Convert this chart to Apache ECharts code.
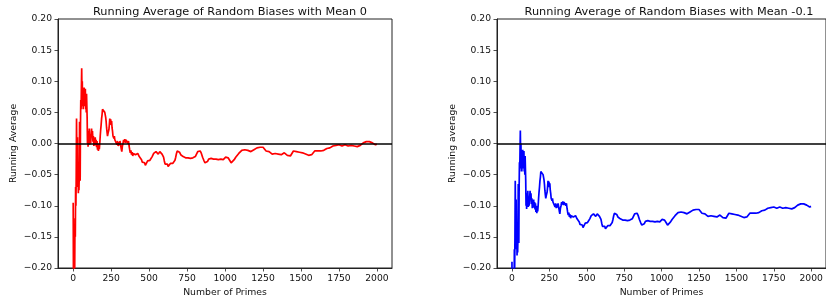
<!DOCTYPE html>
<html>
<head>
<meta charset="utf-8">
<script src="https://cdn.jsdelivr.net/npm/echarts@6.0.0/dist/echarts.min.js"></script>
<style>
html,body{margin:0;padding:0;background:#fff;}
#chart{width:826px;height:303px;}
</style>
</head>
<body>
<div id="chart"></div>
<script>
// Number of primes (x positions of the sampled readings)
const primes = [
  0,2,4,6,8,10,12,14,16,18,20,22,24,26,28,30,32,34,36,38,40,42,44,46,48,50,52,54,56,58,60,62,64,66,68,70,72,74,76,78,80,82,84,86,88,90,92,94,96,98,100,
  103,106,109,112,115,118,121,124,127,130,133,136,139,142,145,148,151,154,157,160,163,166,169,172,175,178,181,184,187,190,193,196,199,202,205,208,211,214,217,220,223,226,229,232,235,238,241,244,247,250,253,256,259,262,265,268,271,274,277,280,
  284,288,292,296,300,304,308,312,316,320,324,328,332,336,340,344,348,352,356,360,364,368,372,376,380,384,388,392,396,400,
  405,410,415,420,425,430,435,440,445,450,455,460,465,470,475,480,485,490,495,500,505,510,515,520,525,530,535,540,545,550,555,560,565,570,575,580,585,590,595,600,605,610,615,620,625,630,635,640,645,650,655,660,665,670,675,680,685,690,695,700,
  708,716,724,732,740,748,756,764,772,780,788,796,804,812,820,828,836,844,852,860,868,876,884,892,900,908,916,924,932,940,948,956,964,972,980,988,996,1004,1012,1020,
  1030,1040,1050,1060,1070,1080,1090,1100,1110,1120,1130,1140,1150,1160,1170,1180,1190,1200,1210,1220,1230,1240,1250,1260,1270,1280,1290,1300,1310,1320,1330,1340,1350,1360,1370,1380,1390,1400,1410,1420,1430,1440,1450,1460,1470,1480,1490,1500,
  1510,1520,1530,1540,1550,1560,1570,1580,1590,1600,1610,1620,1630,1640,1650,1660,1670,1680,1690,1700,1710,1720,1730,1740,1750,1760,1770,1780,1790,1800,1810,1820,1830,1840,1850,1860,1870,1880,1890,1900,1910,1920,1930,1940,1950,1960,1970,1980,1990,1999
];

// Running average, biases with mean 0
const avgMean0 = [
  -0.095,-0.24,-0.21,-0.26,-0.17,-0.2,-0.12,-0.15,-0.07,-0.1,-0.05,0.04,-0.02,-0.07,0.01,-0.06,-0.03,-0.08,-0.04,-0.075,-0.05,0.035,-0.005,-0.06,0.03,0.07,0.055,0.09,0.121,0.08,0.1,0.06,0.085,0.055,0.08,0.065,0.09,0.06,0.08,0.07,0.088,0.055,0.075,0.05,0.08,0.06,0.04,0.0,0.02,-0.005,0.019,
  0.008,0.024,-0.002,0.015,0.0,0.012,0.024,0.01,0.02,0.003,0.012,-0.004,0.008,0.0,0.01,-0.003,0.006,-0.006,0.004,-0.01,0.0,-0.012,-0.004,-0.009,0.0,0.012,0.022,0.03,0.04,0.046,0.055,0.052,0.058,0.054,0.057,0.05,0.052,0.042,0.035,0.025,0.018,0.012,0.016,0.014,0.022,0.03,0.04,0.033,0.039,0.03,0.036,0.025,0.02,0.012,0.015,0.008,0.012,0.006,0.009,0.003,
  0.006,-0.002,0.004,-0.004,0.002,-0.003,0.004,-0.002,-0.008,-0.013,-0.004,0.0,0.006,0.002,0.007,0.001,0.006,0.003,0.006,0.0,0.004,-0.004,-0.01,-0.015,-0.011,-0.018,-0.014,-0.02,-0.016,-0.019,
  -0.014,-0.018,-0.015,-0.02,-0.016,-0.019,-0.021,-0.018,-0.022,-0.026,-0.03,-0.028,-0.033,-0.031,-0.035,-0.032,-0.034,-0.028,-0.03,-0.025,-0.027,-0.024,-0.025,-0.021,-0.018,-0.016,-0.014,-0.016,-0.013,-0.015,-0.014,-0.017,-0.015,-0.013,-0.016,-0.014,-0.017,-0.016,-0.022,-0.028,-0.033,-0.031,-0.035,-0.033,-0.037,-0.034,-0.036,-0.032,-0.034,-0.031,-0.032,-0.029,-0.03,-0.027,-0.022,-0.016,-0.012,-0.01,-0.011,-0.014,
  -0.018,-0.016,-0.021,-0.019,-0.023,-0.025,-0.023,-0.026,-0.024,-0.026,-0.023,-0.025,-0.021,-0.018,-0.013,-0.01,-0.012,-0.016,-0.022,-0.027,-0.031,-0.028,-0.029,-0.025,-0.027,-0.024,-0.027,-0.025,-0.028,-0.025,-0.027,-0.026,-0.028,-0.025,-0.024,-0.026,-0.023,-0.022,-0.02,-0.023,
  -0.027,-0.031,-0.029,-0.026,-0.022,-0.019,-0.016,-0.013,-0.011,-0.012,-0.01,-0.012,-0.011,-0.014,-0.013,-0.012,-0.01,-0.009,-0.007,-0.006,-0.006,-0.007,-0.006,-0.009,-0.012,-0.014,-0.013,-0.015,-0.017,-0.018,-0.016,-0.015,-0.017,-0.02,-0.018,-0.016,-0.015,-0.017,-0.019,-0.021,-0.02,-0.016,-0.012,-0.011,-0.013,-0.014,-0.014,-0.016,
  -0.015,-0.016,-0.017,-0.018,-0.019,-0.02,-0.018,-0.015,-0.012,-0.011,-0.012,-0.011,-0.012,-0.01,-0.011,-0.009,-0.008,-0.006,-0.007,-0.005,-0.004,-0.005,-0.003,-0.003,-0.002,-0.003,-0.004,-0.003,-0.002,-0.003,-0.004,-0.004,-0.003,-0.005,-0.004,-0.006,-0.005,-0.004,-0.003,-0.001,0.001,0.003,0.003,0.002,0.003,0.002,0.001,-0.001,-0.002,-0.001
];

// Running average, biases with mean -0.1
const avgMeanNeg01 = [
  -0.19,-0.34,-0.31,-0.36,-0.27,-0.3,-0.22,-0.25,-0.17,-0.2,-0.15,-0.06,-0.12,-0.17,-0.09,-0.16,-0.13,-0.18,-0.14,-0.175,-0.15,-0.065,-0.105,-0.16,-0.07,-0.03,-0.045,-0.01,0.021,-0.02,0.0,-0.04,-0.015,-0.045,-0.02,-0.035,-0.01,-0.04,-0.02,-0.03,-0.012,-0.045,-0.025,-0.05,-0.02,-0.04,-0.06,-0.1,-0.08,-0.105,-0.081,
  -0.092,-0.076,-0.102,-0.085,-0.1,-0.088,-0.076,-0.09,-0.08,-0.097,-0.088,-0.104,-0.092,-0.1,-0.09,-0.103,-0.094,-0.106,-0.096,-0.11,-0.1,-0.112,-0.104,-0.109,-0.1,-0.088,-0.078,-0.07,-0.06,-0.054,-0.045,-0.048,-0.042,-0.046,-0.043,-0.05,-0.048,-0.058,-0.065,-0.075,-0.082,-0.088,-0.084,-0.086,-0.078,-0.07,-0.06,-0.067,-0.061,-0.07,-0.064,-0.075,-0.08,-0.088,-0.085,-0.092,-0.088,-0.094,-0.091,-0.097,
  -0.094,-0.102,-0.096,-0.104,-0.098,-0.103,-0.096,-0.102,-0.108,-0.113,-0.104,-0.1,-0.094,-0.098,-0.093,-0.099,-0.094,-0.097,-0.094,-0.1,-0.096,-0.104,-0.11,-0.115,-0.111,-0.118,-0.114,-0.12,-0.116,-0.119,
  -0.114,-0.118,-0.115,-0.12,-0.116,-0.119,-0.121,-0.118,-0.122,-0.126,-0.13,-0.128,-0.133,-0.131,-0.135,-0.132,-0.134,-0.128,-0.13,-0.125,-0.127,-0.124,-0.125,-0.121,-0.118,-0.116,-0.114,-0.116,-0.113,-0.115,-0.114,-0.117,-0.115,-0.113,-0.116,-0.114,-0.117,-0.116,-0.122,-0.128,-0.133,-0.131,-0.135,-0.133,-0.137,-0.134,-0.136,-0.132,-0.134,-0.131,-0.132,-0.129,-0.13,-0.127,-0.122,-0.116,-0.112,-0.11,-0.111,-0.114,
  -0.118,-0.116,-0.121,-0.119,-0.123,-0.125,-0.123,-0.126,-0.124,-0.126,-0.123,-0.125,-0.121,-0.118,-0.113,-0.11,-0.112,-0.116,-0.122,-0.127,-0.131,-0.128,-0.129,-0.125,-0.127,-0.124,-0.127,-0.125,-0.128,-0.125,-0.127,-0.126,-0.128,-0.125,-0.124,-0.126,-0.123,-0.122,-0.12,-0.123,
  -0.127,-0.131,-0.129,-0.126,-0.122,-0.119,-0.116,-0.113,-0.111,-0.112,-0.11,-0.112,-0.111,-0.114,-0.113,-0.112,-0.11,-0.109,-0.107,-0.106,-0.106,-0.107,-0.106,-0.109,-0.112,-0.114,-0.113,-0.115,-0.117,-0.118,-0.116,-0.115,-0.117,-0.12,-0.118,-0.116,-0.115,-0.117,-0.119,-0.121,-0.12,-0.116,-0.112,-0.111,-0.113,-0.114,-0.114,-0.116,
  -0.115,-0.116,-0.117,-0.118,-0.119,-0.12,-0.118,-0.115,-0.112,-0.111,-0.112,-0.111,-0.112,-0.11,-0.111,-0.109,-0.108,-0.106,-0.107,-0.105,-0.104,-0.105,-0.103,-0.103,-0.102,-0.103,-0.104,-0.103,-0.102,-0.103,-0.104,-0.104,-0.103,-0.105,-0.104,-0.106,-0.105,-0.104,-0.103,-0.101,-0.099,-0.097,-0.097,-0.098,-0.097,-0.098,-0.099,-0.101,-0.102,-0.101
];

const xTicks = [0,250,500,750,1000,1250,1500,1750,2000];
const yTicks = [-0.2,-0.15,-0.1,-0.05,0,0.05,0.1,0.15,0.2];
const titles = ['Running Average of Random Biases with Mean 0', 'Running Average of Random Biases with Mean -0.1'];
const yNames = ['Running Average', 'Running average'];
const xName = 'Number of Primes';

const FONT = 'DejaVu Sans';
const TXT = '#111';
const gridLefts = [58, 497];

function fmtY(v) {
  if (Math.abs(v) < 1e-9) return '0.00';
  return v.toFixed(2).replace('-', '\u2212');
}

function pairs(ys) { return primes.map((x, i) => [x, ys[i]]); }

const chart = echarts.init(document.getElementById('chart'), null, {renderer: 'canvas'});

const grids = [], xAxes = [], yAxes = [], series = [], titleOpts = [];
const colors = ['#ff0000', '#0000ff'];
const datasets = [avgMean0, avgMeanNeg01];

for (let k = 0; k < 2; k++) {
  grids.push({left: gridLefts[k], top: 19, width: 334, height: 249, show: true, borderColor: '#222', borderWidth: 1, backgroundColor: 'transparent'});
  titleOpts.push({
    text: titles[k], left: gridLefts[k] + 167, top: 2, textAlign: 'center',
    textStyle: {fontFamily: FONT, fontSize: 11.3, fontWeight: 'normal', color: TXT}
  });
  xAxes.push({
    type: 'value', gridIndex: k, min: -100, max: 2099,
    name: xName, nameLocation: 'middle', nameGap: 18,
    nameTextStyle: {fontFamily: FONT, fontSize: 9.3, color: TXT},
    axisLine: {show: true, onZero: false, lineStyle: {color: '#222', width: 1}},
    axisTick: {show: true, inside: false, length: 3.5, customValues: xTicks, lineStyle: {color: '#222', width: 0.8}},
    axisLabel: {show: true, margin: 6, customValues: xTicks, fontFamily: FONT, fontSize: 9.2, color: TXT, formatter: v => String(v)},
    splitLine: {show: false}
  });
  yAxes.push({
    type: 'value', gridIndex: k, min: -0.2, max: 0.2,
    name: yNames[k], nameLocation: 'middle', nameGap: 40, nameRotate: 90,
    nameTextStyle: {fontFamily: FONT, fontSize: 9.3, color: TXT},
    axisLine: {show: true, onZero: false, lineStyle: {color: '#222', width: 1}},
    axisTick: {show: true, inside: false, length: 3.5, customValues: yTicks, lineStyle: {color: '#222', width: 0.8}},
    axisLabel: {show: true, margin: 6, customValues: yTicks, fontFamily: FONT, fontSize: 9.2, color: TXT, formatter: fmtY},
    splitLine: {show: false}
  });
  series.push({
    type: 'line', xAxisIndex: k, yAxisIndex: k,
    data: pairs(datasets[k]),
    showSymbol: false, symbol: 'none', clip: true,
    lineStyle: {color: colors[k], width: 1.7},
    itemStyle: {color: colors[k]},
    animation: false,
    markLine: {
      silent: true, symbol: ['none', 'none'], animation: false,
      label: {show: false},
      lineStyle: {color: '#000', width: 1.5, type: 'solid'},
      data: [{yAxis: 0}]
    }
  });
}

chart.setOption({
  animation: false,
  backgroundColor: '#ffffff',
  title: titleOpts,
  grid: grids,
  xAxis: xAxes,
  yAxis: yAxes,
  series: series
});
</script>
</body>
</html>
